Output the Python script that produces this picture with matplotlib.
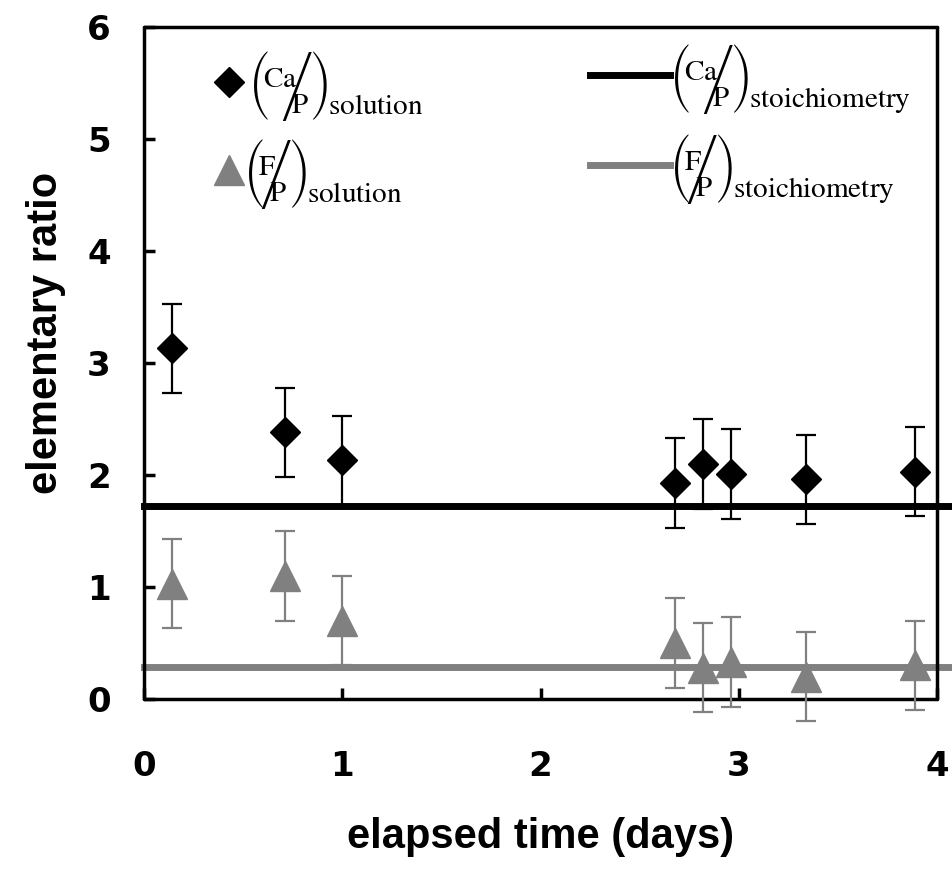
import matplotlib.pyplot as plt

plt.rcParams['mathtext.fontset'] = 'stix'

# elapsed time of each sampling (days)
days = [0.14, 0.71, 1.00, 2.68, 2.82, 2.96, 3.34, 3.89]

# molar ratios measured in solution and their error bars
ca_p = [3.13, 2.38, 2.13, 1.93, 2.10, 2.01, 1.96, 2.03]
ca_p_err = [0.40, 0.40, 0.40, 0.40, 0.40, 0.40, 0.40, 0.40]
f_p = [1.03, 1.10, 0.70, 0.50, 0.28, 0.33, 0.20, 0.30]
f_p_err = [0.40, 0.40, 0.40, 0.40, 0.40, 0.40, 0.40, 0.40]

# stoichiometric ratios of the solid
ca_p_stoich = 1.72
f_p_stoich = 0.29

xticks = [0, 1, 2, 3, 4]
yticks = [0, 1, 2, 3, 4, 5, 6]

grey = '#808080'


def lift(s, n):
    # put s over an empty denominator n times, each pass raises it a bit
    for _ in range(n):
        s = r'\genfrac{}{}{0}{0}{' + s + r'}{\,}'
    return s


def drop(s):
    # put s under an empty numerator
    return r'\genfrac{}{}{0}{0}{\,}{' + s + '}'


def back(n):
    return r'\!' * n


def ratio(num, sub):
    # (num/P)_sub as a slanted fraction in tall brackets; the two empty
    # stacks only stretch the brackets and take no room
    struts = lift(r'\,', 5) + back(6) + drop(lift(r'\,', 3)) + back(7)
    frac = (lift(r'\mathrm{' + num + '}', 1) + back(5) + r'\middle/' + back(6)
            + drop(r'\mathrm{P}'))
    return (r'$\left(' + struts + frac + r'\right)' + back(1)
            + drop(r'\mathrm{' + sub + '}') + '$')


fig = plt.figure(figsize=(9.52, 8.72), dpi=100)
ax = fig.add_axes([144 / 952, 1 - 699 / 872, 793 / 952, 672 / 872])

ca = ax.errorbar(days, ca_p, yerr=ca_p_err, fmt='D', color='k', ms=15,
                 elinewidth=1.6, capsize=7, capthick=1.6, zorder=3)
fp = ax.errorbar(days, f_p, yerr=f_p_err, fmt='^', color=grey, ms=21,
                 elinewidth=1.6, capsize=7, capthick=1.6, zorder=3)
for art in fp.get_children():
    art.set_clip_on(False)

ax.axhline(ca_p_stoich, xmin=0, xmax=1.05, color='k', lw=5, clip_on=False, zorder=4)
ax.axhline(f_p_stoich, xmin=0, xmax=1.05, color=grey, lw=5, clip_on=False, zorder=2)

ax.set_xlim(0, 4)
ax.set_ylim(0, 6)
ax.set_xticks(xticks)
ax.set_yticks(yticks)

for side in ['left', 'right', 'top', 'bottom']:
    ax.spines[side].set_linewidth(2.5)
    ax.spines[side].set_capstyle('round')
ax.tick_params(direction='in', length=8, width=2.5, top=False, right=False)
ax.tick_params(axis='x', pad=37)
ax.tick_params(axis='y', pad=24)
for lab in ax.get_xticklabels() + ax.get_yticklabels():
    lab.set_family('DejaVu Sans')
    lab.set_weight('bold')
    lab.set_fontsize(24.5)

ax.set_xlabel('elapsed time (days)', family='Liberation Sans', weight='bold', fontsize=30)
ax.set_ylabel('elementary ratio', family='Liberation Sans', weight='bold', fontsize=30)
ax.xaxis.set_label_coords(0.5, -0.175)
ax.yaxis.set_label_coords(-0.098, 0.545)

# key, drawn by hand so the symbols sit beside the raised fractions
key = dict(transform=ax.transAxes, clip_on=False)
ax.plot([0.107], [0.918], marker='D', ms=15, color='k', ls='none', **key)
ax.plot([0.107], [0.787], marker='^', ms=21, color=grey, ls='none', **key)
ax.plot([0.562, 0.663], [0.929, 0.929], color='k', lw=5, **key)
ax.plot([0.562, 0.663], [0.795, 0.795], color=grey, lw=5, **key)

txt = dict(transform=ax.transAxes, fontsize=21, va='baseline', ha='left')
ax.text(0.131, 0.897, ratio('Ca', 'solution'), **txt)
ax.text(0.125, 0.766, ratio('F', 'solution'), **txt)
ax.text(0.662, 0.908, ratio('Ca', 'stoichiometry'), **txt)
ax.text(0.662, 0.774, ratio('F', 'stoichiometry'), **txt)

fig.savefig('out.png', dpi=100)
